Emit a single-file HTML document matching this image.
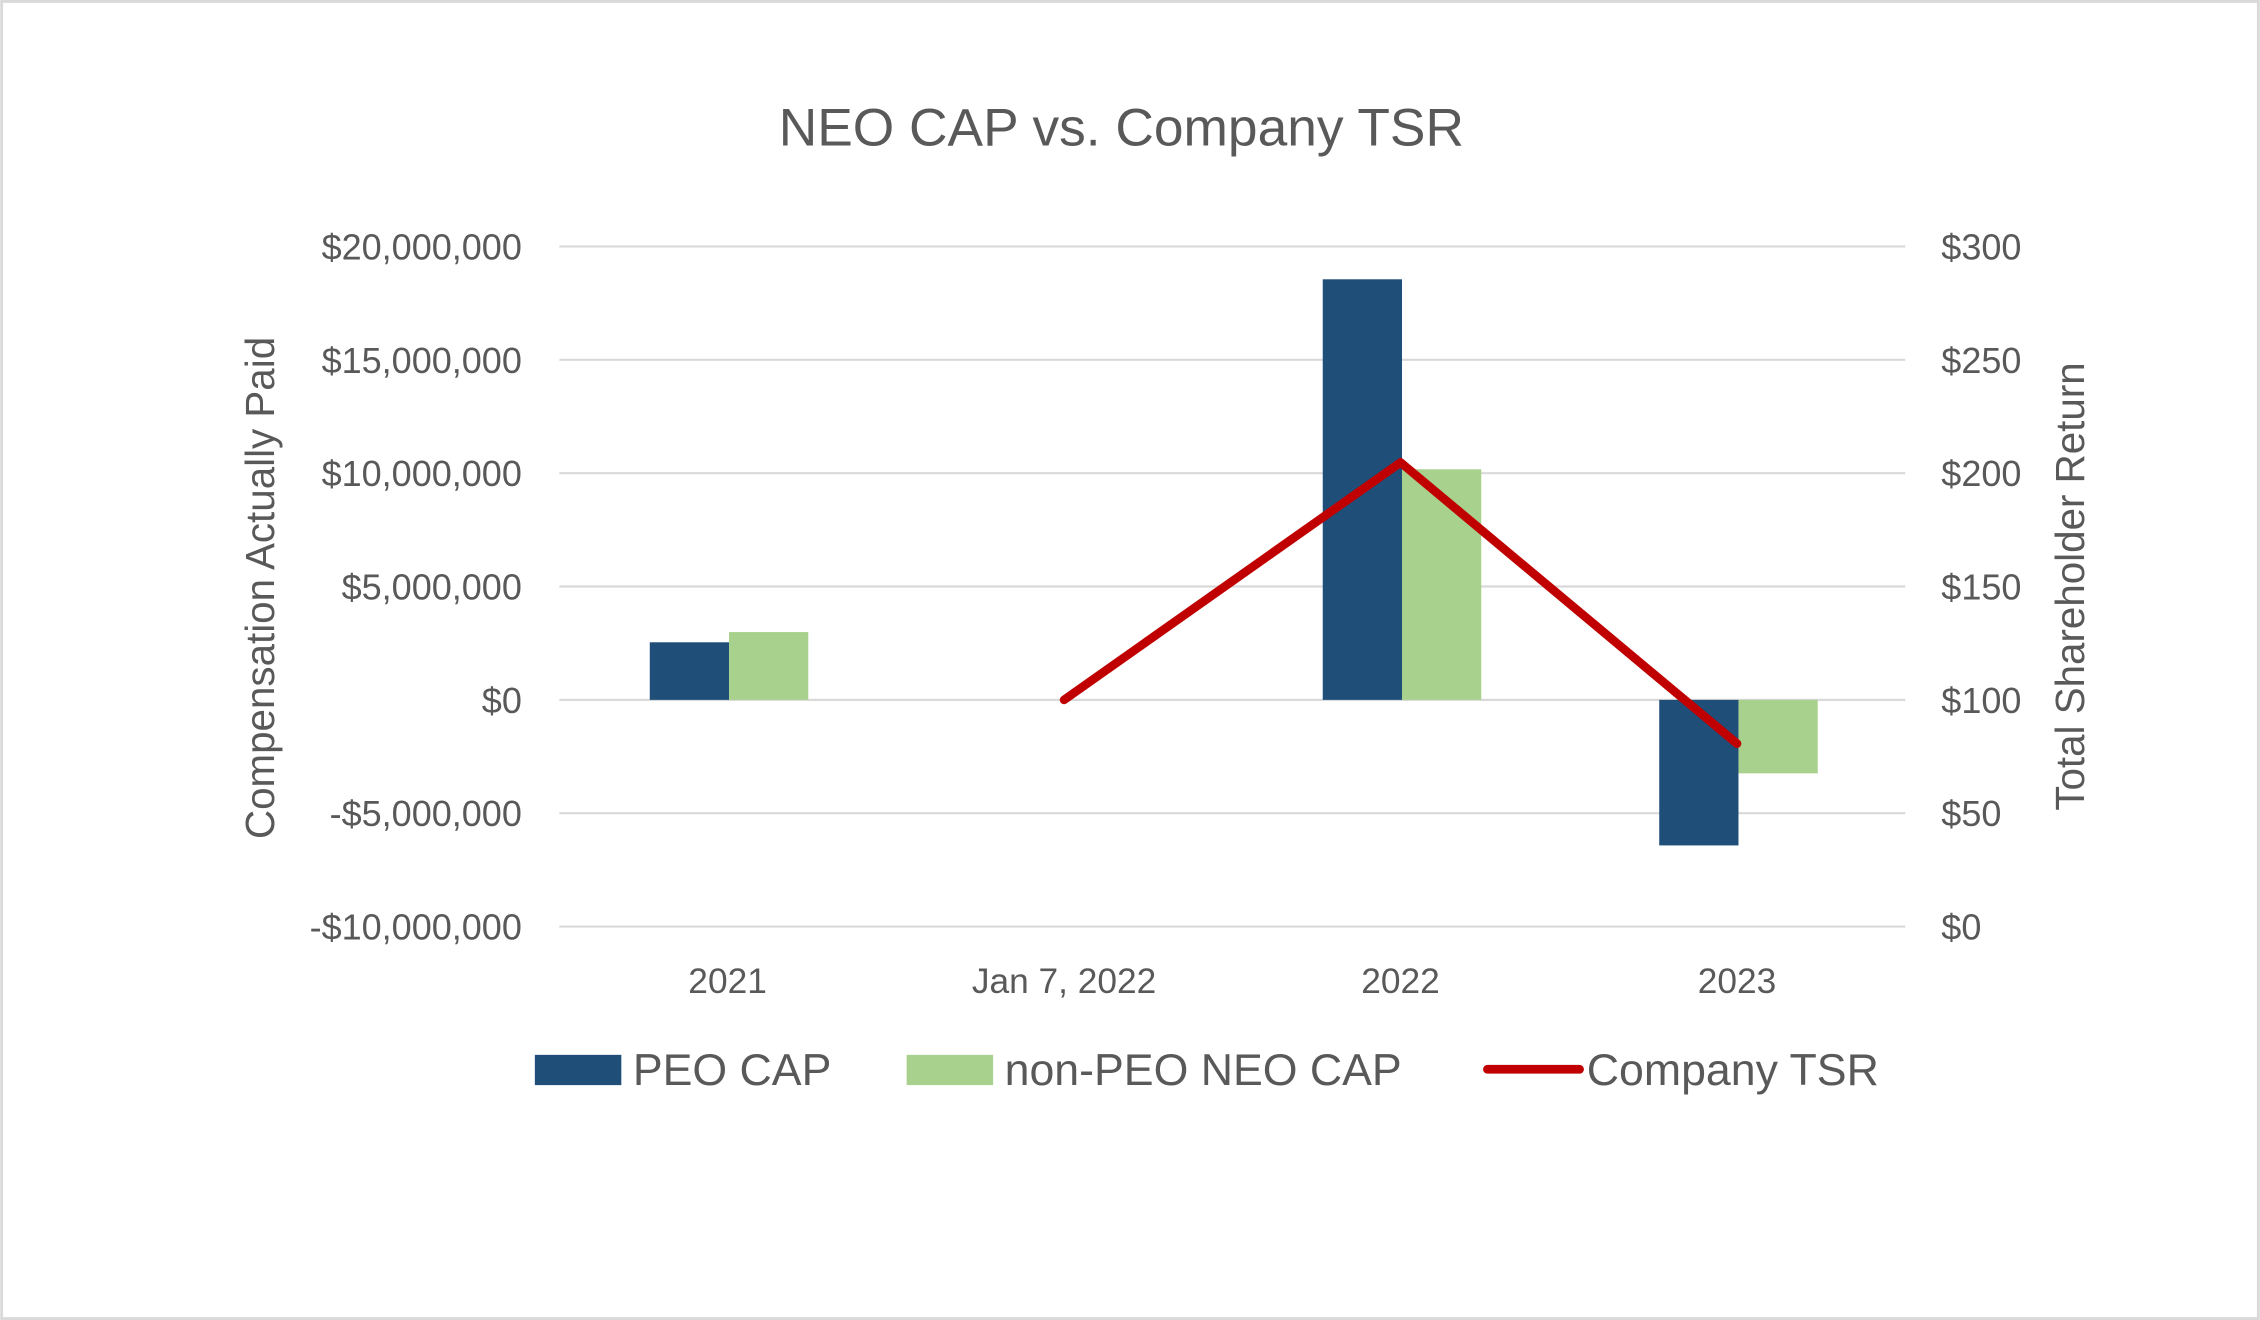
<!DOCTYPE html>
<html><head><meta charset="utf-8"><style>
html,body{margin:0;padding:0;background:#fff;}
svg{display:block;font-family:"Liberation Sans",sans-serif;}
</style></head><body>
<svg id="chart" width="2260" height="1320" viewBox="0 0 1568 916" xmlns="http://www.w3.org/2000/svg">
<rect x="1" y="1" width="1566" height="914" fill="#fff" stroke="#d9d9d9" stroke-width="2"/>
<text x="778" y="101" text-anchor="middle" font-size="37" fill="#595959">NEO CAP vs. Company TSR</text>
<g id="grid"></g><g id="bars"></g><g id="line"></g><g id="axes"></g>
<text transform="translate(190,408) rotate(-90)" text-anchor="middle" font-size="28" fill="#595959">Compensation Actually Paid</text>
<text transform="translate(1446,407) rotate(-90)" text-anchor="middle" font-size="28" fill="#595959">Total Shareholder Return</text>
<g>
<rect x="371" y="732" width="60" height="21" fill="#1f4e79"/>
<text x="439" y="753" font-size="31" fill="#595959">PEO CAP</text>
<rect x="629" y="732" width="60" height="21" fill="#a9d18e"/>
<text x="697" y="753" font-size="31" fill="#595959">non-PEO NEO CAP</text>
<line x1="1032" y1="742" x2="1096" y2="742" stroke="#c00000" stroke-width="6" stroke-linecap="round"/>
<text x="1101" y="753" font-size="31" fill="#595959">Company TSR</text>
</g>
</svg>
<script>
const categories=["2021","Jan 7, 2022","2022","2023"];
const peoCap=[2540000,null,18550000,-6420000];
const nonPeoCap=[2990000,null,10170000,-3240000];
const tsr=[null,100,204.7,80.7];
const leftTicks=[-10000000,-5000000,0,5000000,10000000,15000000,20000000];
const leftTickLabels=["-$10,000,000","-$5,000,000","$0","$5,000,000","$10,000,000","$15,000,000","$20,000,000"];
const rightTicks=[0,50,100,150,200,250,300];
const rightTickLabels=["$0","$50","$100","$150","$200","$250","$300"];

const NS="http://www.w3.org/2000/svg";
const X0=388,X1=1322,YT=171,YB=643;
const yL=v=>YB-(v-(-10000000))/(30000000)*(YB-YT);
const yR=v=>YB-v/300*(YB-YT);
const band=(X1-X0)/categories.length;
const xC=i=>X0+band*(i+0.5);
const BW=55;
function mk(tag,attrs,parent){const e=document.createElementNS(NS,tag);for(const k in attrs)e.setAttribute(k,attrs[k]);parent.appendChild(e);return e;}
const grid=document.getElementById('grid'),bars=document.getElementById('bars'),line=document.getElementById('line'),axes=document.getElementById('axes');
leftTicks.forEach((t,i)=>{
 const g=mk('line',{x1:X0,x2:X1,y1:yL(t),y2:yL(t),stroke:'#d9d9d9','stroke-width':1.5},grid);
 
 
 const tx=mk('text',{x:362,y:yL(t)+9,'text-anchor':'end','font-size':25,fill:'#595959'},axes);
 tx.textContent=leftTickLabels[i];
 
 
});
rightTicks.forEach((t,i)=>{
 const tx=mk('text',{x:1347,y:yR(t)+9,'text-anchor':'start','font-size':25,fill:'#595959'},axes);
 tx.textContent=rightTickLabels[i];
 
 
});
categories.forEach((c,i)=>{
 const tx=mk('text',{x:xC(i),y:689,'text-anchor':'middle','font-size':24.5,fill:'#595959'},axes);
 tx.textContent=c;
 
 
 [[peoCap,'#1f4e79',-BW],[nonPeoCap,'#a9d18e',0]].forEach(([arr,col,off])=>{
  const v=arr[i]; if(v==null)return;
  const y0=yL(0),y1=yL(v);
  const r=mk('rect',{x:xC(i)+off+1,y:Math.min(y0,y1),width:BW,height:Math.abs(y1-y0),fill:col},bars);
  
  
 });
});
const pts=tsr.map((v,i)=>v==null?null:[xC(i),yR(v)]).filter(p=>p);
const pl=mk('polyline',{points:pts.map(p=>p.join(',')).join(' '),fill:'none',stroke:'#c00000','stroke-width':6,'stroke-linecap':'round','stroke-linejoin':'round'},line);


</script>
</body></html>
